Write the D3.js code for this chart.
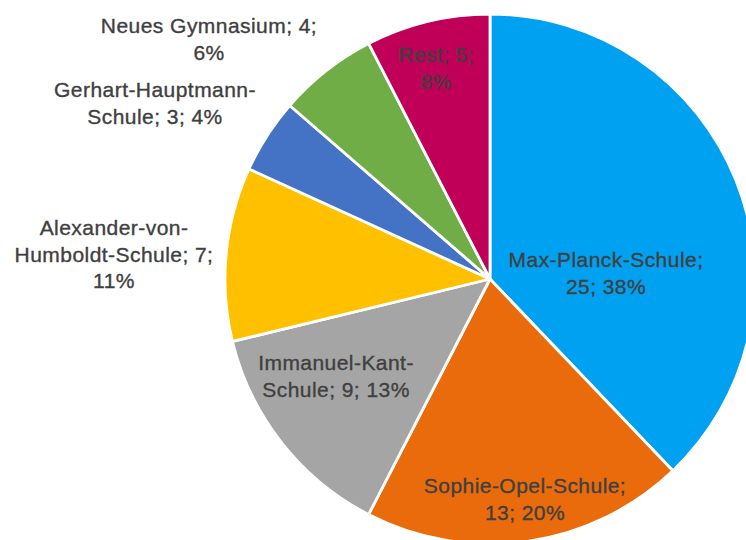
<!DOCTYPE html>
<html>
<head>
<meta charset="utf-8">
<script src="https://cdn.jsdelivr.net/npm/d3@7"></script>
<style>
  body { margin: 0; background: #fff; }
  svg { display: block; }
  .lbl { font-family: "Liberation Sans", Arial, sans-serif; font-size: 21px; letter-spacing: 0.45px;
         fill: #404040; stroke: #404040; stroke-width: 0.35px; }
</style>
</head>
<body>
<div id="chart"></div>
<script>
// data (clockwise from 12 o'clock)
const schools = ["Max-Planck-Schule", "Sophie-Opel-Schule", "Immanuel-Kant-Schule",
  "Alexander-von-Humboldt-Schule", "Gerhart-Hauptmann-Schule", "Neues Gymnasium", "Rest"];
const counts = [25, 13, 9, 7, 3, 4, 5];
const pctLabels = ["38%", "20%", "13%", "11%", "4%", "6%", "8%"];
const colors = ["#00A1F1", "#EA6B0C", "#A5A5A5", "#FFC000", "#4472C4", "#70AD47", "#C00058"];

var width = 746, height = 540;
var cx = 490, cy = 279, radius = 265;

// label placement relative to the pie centre (first baseline, centred) + wrap width
var labelPlace = [
  {dx: 116, dy: -12, w: 228},
  {dx: 35, dy: 214, w: 232},
  {dx: -154, dy: 91, w: 180},
  {dx: -376, dy: -44, w: 225},
  {dx: -335, dy: -182, w: 235},
  {dx: -281, dy: -246, w: 240},
  {dx: -54, dy: -217, w: 92}
];
var lineH = 26.5;

const svg = d3.select("#chart")
  .append("svg")
    .attr("width", width)
    .attr("height", height);

var g = svg.append("g")
  .attr("transform", `translate(${cx}, ${cy})`);

var data = schools.map((s, i) => ({name: s, value: counts[i], pct: pctLabels[i], i: i}));

var pie = d3.pie()
  .value(d => d.value)
  .sort(null);

var arc = d3.arc()
  .innerRadius(0)
  .outerRadius(radius);

var arcs = pie(data);

g.selectAll("path.slice")
  .data(arcs)
  .enter()
  .append("path")
    .attr("class", "slice")
    .attr("d", arc)
    .attr("fill", d => colors[d.data.i])
    .attr("stroke", "#fff")
    .attr("stroke-width", 2.8)
    .attr("stroke-linejoin", "round");

// labels: "name; value; pct" wrapped greedily at hyphens / spaces
var labels = g.selectAll("text.lbl")
  .data(arcs)
  .enter()
  .append("text")
    .attr("class", "lbl")
    .attr("text-anchor", "middle");

labels.each(function(d) {
  var t = d3.select(this);
  var p = labelPlace[d.data.i];
  var full = `${d.data.name}; ${d.data.value}; ${d.data.pct}`;
  var tokens = full.match(/[^\s-]+-?\s?|\s/g);
  var lines = [], cur = "";
  var probe = t.append("tspan");
  tokens.forEach(tok => {
    var test = cur + tok;
    probe.text(test.trim());
    if (cur && probe.node().getComputedTextLength() > p.w) {
      lines.push(cur.trim());
      cur = tok;
    } else {
      cur = test;
    }
  });
  lines.push(cur.trim());
  probe.remove();
  lines.forEach((ln, k) => {
    t.append("tspan")
      .attr("x", p.dx)
      .attr("y", p.dy + k * lineH)
      .text(ln);
  });
});
</script>
</body>
</html>
